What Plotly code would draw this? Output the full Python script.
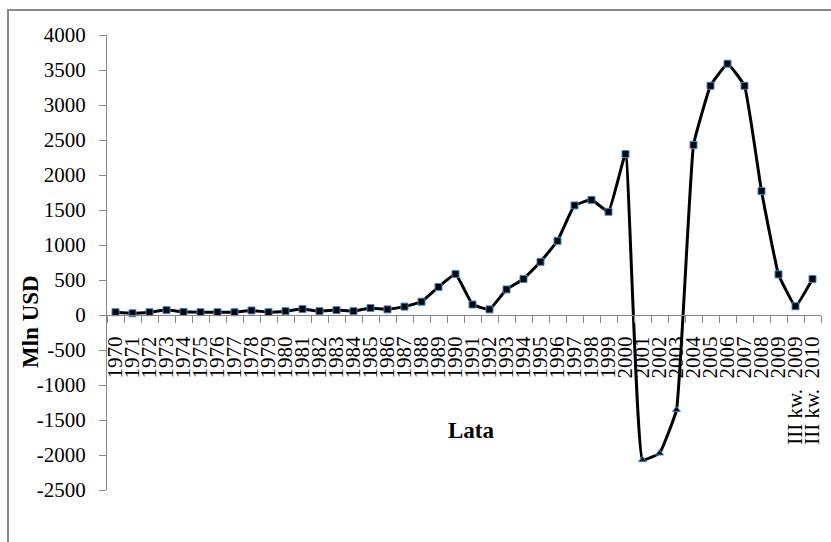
import plotly.graph_objects as go

categories = ["1970", "1971", "1972", "1973", "1974", "1975", "1976", "1977", "1978", "1979",
              "1980", "1981", "1982", "1983", "1984", "1985", "1986", "1987", "1988", "1989",
              "1990", "1991", "1992", "1993", "1994", "1995", "1996", "1997", "1998", "1999",
              "2000", "2001", "2002", "2003", "2004", "2005", "2006", "2007", "2008", "2009",
              "III kw.\u00a0\u00a02009", "III kw.\u00a0\u00a02010"]

values = [40, 25, 40, 70, 45, 40, 40, 40, 65, 40,
          55, 85, 55, 70, 55, 100, 80, 120, 190, 400,
          585, 150, 80, 365, 515, 760, 1060, 1565, 1645, 1475,
          2300, -2070, -1975, -1355, 2430, 3275, 3590, 3275, 1770, 580,
          125, 515]

y_ticks = [-2500, -2000, -1500, -1000, -500, 0, 500, 1000, 1500, 2000, 2500, 3000, 3500, 4000]

y_title = "Mln USD"
x_title = "Lata"

FONT = "Liberation Serif, Times New Roman, serif"
AXIS_GRAY = "#868686"

symbols = ["triangle-up" if v < 0 else "square" for v in values]

fig = go.Figure()
fig.add_trace(go.Scatter(
    x=categories, y=values, mode="lines+markers",
    line=dict(color="black", width=3, shape="spline", smoothing=0.3),
    marker=dict(symbol=symbols, size=7, color="black",
                line=dict(color="#3b8bd4", width=1)),
    showlegend=False, cliponaxis=False, hoverinfo="skip",
))

ymin, ymax = -2500, 4000
zero_pos = (0 - ymin) / (ymax - ymin)

fig.update_layout(
    width=831, height=542,
    margin=dict(l=107, r=10, t=35, b=52),
    paper_bgcolor="white", plot_bgcolor="white",
    font=dict(family=FONT, color="black"),
    xaxis=dict(
        type="category",
        range=[-0.5, len(categories) - 0.5],
        anchor="free", position=zero_pos,
        automargin=False,
        tickmode="array", tickvals=categories, ticktext=categories,
        showline=True, linecolor=AXIS_GRAY, linewidth=1,
        ticks="outside", ticklen=7, tickcolor=AXIS_GRAY, tickson="boundaries",
        tickangle=-90, tickfont=dict(size=21, family=FONT, color="black"),
        ticklabelstandoff=12,
        showgrid=False, zeroline=False,
    ),
    yaxis=dict(
        range=[ymin, ymax],
        automargin=False,
        tickmode="array", tickvals=y_ticks, ticktext=[str(v) for v in y_ticks],
        showline=True, linecolor=AXIS_GRAY, linewidth=1,
        ticks="outside", ticklen=7, tickcolor=AXIS_GRAY,
        tickfont=dict(size=21, family=FONT, color="black"),
        ticklabelstandoff=9,
        showgrid=False, zeroline=False,
    ),
    shapes=[dict(type="rect", xref="paper", yref="paper",
                 x0=(8 - 107) / 714, x1=1.2, y0=-0.3, y1=1 + (35 - 10) / 455,
                 line=dict(color="#8a8a8a", width=2), fillcolor="rgba(0,0,0,0)", layer="below")],
    annotations=[
        dict(text="<b>" + y_title + "</b>", xref="paper", yref="paper",
             x=(30 - 107) / 714, y=(490 - 322) / 455, textangle=-90,
             showarrow=False, font=dict(size=23, family=FONT, color="black"),
             xanchor="center", yanchor="middle"),
        dict(text="<b>" + x_title + "</b>", xref="paper", yref="paper",
             x=(471 - 107) / 714, y=(490 - 430) / 455,
             showarrow=False, font=dict(size=23, family=FONT, color="black"),
             xanchor="center", yanchor="middle"),
    ],
)

fig.write_html("out.html", config={"displayModeBar": False, "staticPlot": True},
               post_script="document.body.style.margin='0px';document.body.style.overflow='hidden';")
